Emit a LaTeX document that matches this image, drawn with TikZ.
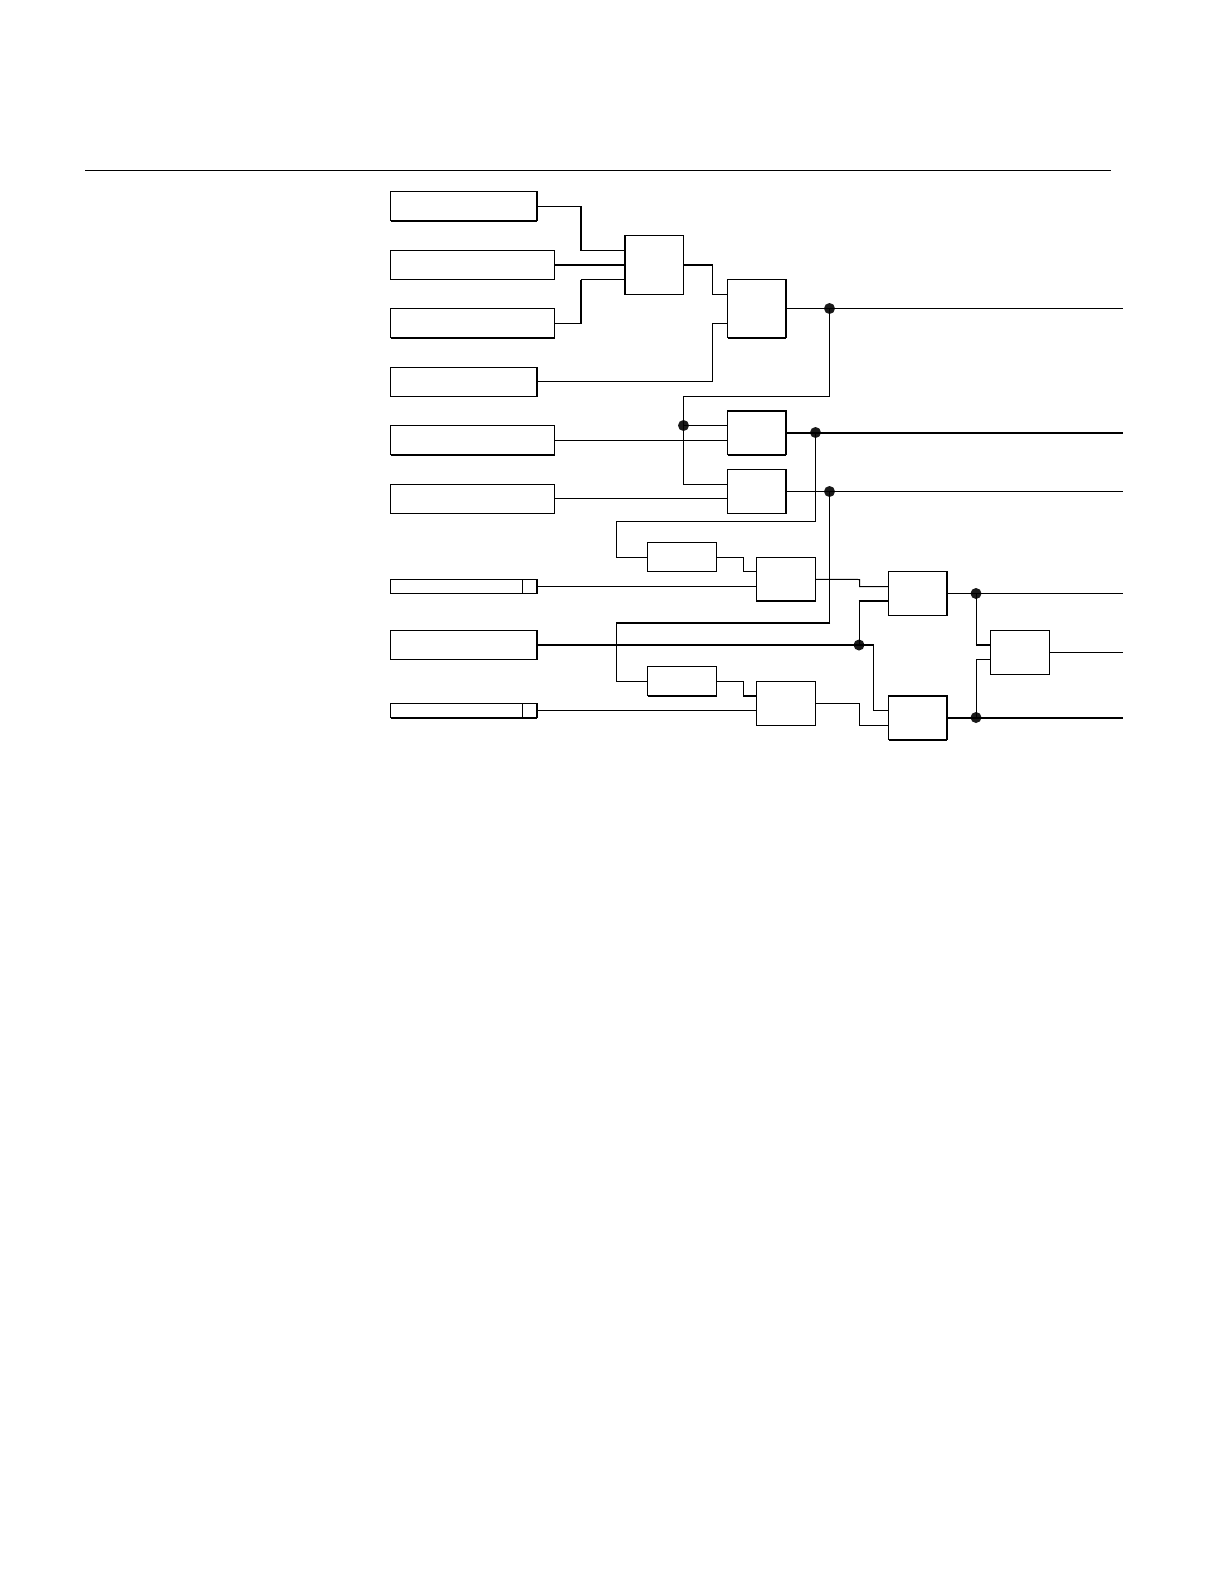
\documentclass[tikz,border=0pt]{standalone}
\tikzset{
  blk/.style={draw=black,fill=white,line width=1pt,inner sep=0pt,outer sep=0pt},
  wire/.style={draw=black,line width=1pt,line join=miter},
  heavy/.style={draw=black,line width=2pt,line cap=square},
  joint/.style={circle,fill=black!90,draw=none,inner sep=0pt,minimum size=11pt,outer sep=0pt}
}
\newcommand{\bx}[5]{\node[blk,minimum width={(#4-#2)*1pt},minimum height={(#5-#3)*1pt}] (#1) at ({(#2+#4)/2},{(#3+#5)/2}) {};}
\newcommand{\hS}[1]{\draw[heavy] (#1.south west) -- (#1.south east);}
\newcommand{\hE}[1]{\draw[heavy] (#1.north east) -- (#1.south east);}
\newcommand{\hN}[1]{\draw[heavy] (#1.north west) -- (#1.north east);}
\newcommand{\hW}[1]{\draw[heavy] (#1.north west) -- (#1.south west);}
\begin{document}
\begin{tikzpicture}[x=1pt,y=-1pt]
\path[use as bounding box,fill=white] (0,0) rectangle (1225,1582);
\coordinate (ruleL) at (85,170.5);
\coordinate (ruleR) at (1111,170.5);
\draw[wire] (ruleL) -- (ruleR);
% left blocks
\bx{b1}{390.5}{191.5}{537}{220.5}
\bx{b2}{390.5}{250.5}{554.5}{279.5}
\bx{b3}{390.5}{308.5}{554.5}{337.5}
\bx{b4}{390.5}{367}{537}{396}
\bx{b5}{390.5}{425.5}{554.5}{454.5}
\bx{b6}{390.5}{484}{554.5}{513.5}
\bx{b7}{390.5}{579.5}{537}{593.5}
\bx{b8}{390.5}{630.5}{537}{659.5}
\bx{b9}{390.5}{703.5}{537}{717.5}
\draw[wire] ([xshift=-14.5]b7.north east) -- ([xshift=-14.5]b7.south east);
\draw[wire] ([xshift=-14.5]b9.north east) -- ([xshift=-14.5]b9.south east);
% gates
\bx{g1}{624.5}{235.5}{683.5}{294.5}
\bx{g2}{727.5}{279.5}{786}{337.5}
\bx{g3}{727.5}{410.5}{786}{454.5}
\bx{g4}{727.5}{469.5}{786}{513.5}
\bx{d1}{647.5}{542.5}{716.5}{571.5}
\bx{d2}{647.5}{666.5}{716.5}{695.5}
\bx{g5}{756.5}{557.5}{815.5}{601}
\bx{g6}{756.5}{681.5}{815.5}{725.5}
\bx{g7}{888.5}{571.5}{947}{615.5}
\bx{g8}{888.5}{695.5}{947}{739.5}
\bx{g9}{990.5}{630.5}{1049.5}{674.5}
% heavy edges
\hS{b1}\hE{b1}\hS{b3}\hE{b4}\hS{b5}\hE{b7}\hE{b8}\hS{b9}\hE{b9}
\hW{g1}\hE{g2}\hS{g2}\hN{g3}\hS{g3}\hE{g3}\hE{g4}\hS{d2}\hS{g5}\hE{g7}\hN{g8}\hS{g8}\hE{g8}
% outputs
\coordinate (o1) at (1123,308.5);
\coordinate (o2) at (1123,432.5);
\coordinate (o3) at (1123,491.5);
\coordinate (o4) at (1123,593.5);
\coordinate (o5) at (1123,652.5);
\coordinate (o6) at (1123,717.5);
% joints
\node[joint] (j1) at (829.5,308.5) {};
\node[joint] (j2) at (683.5,425.5) {};
\node[joint] (j3) at (815.5,432.5) {};
\node[joint] (j4) at (829.5,491.5) {};
\node[joint] (j5) at (859,645) {};
\node[joint] (j6) at (976,593.5) {};
\node[joint] (j7) at (976,717.5) {};
% wires
\draw[wire] (b1.east) -- (581,206) -- (581,250.5) -- (g1.west |- 0,250.5);
\draw[heavy,line cap=butt] (581,206) -- (581,250.5);
\draw[heavy,line cap=butt] (b2.east) -- (g1.west);
\draw[wire] (b3.east) -- (581,323) -- (581,279.5) -- (g1.west |- 0,279.5);
\draw[heavy,line cap=butt] (581,323.5) -- (581,279.5);
\draw[wire] (g1.east) -- (712.5,265) -- (712.5,294.5) -- (g2.west |- 0,294.5);
\draw[heavy,line cap=butt] (g1.east) -- (713,265);
\draw[wire] (b4.east) -- (712.5,381.5) -- (712.5,323.5) -- (g2.west |- 0,323.5);
\draw[wire] (g2.east) -- (j1.center) -- (o1);
\draw[wire] (j1.center) -- (829.5,396.5) -- (683.5,396.5) -- (683.5,484.5) -- (g4.west |- 0,484.5);
\draw[wire] (j2.center) -- (g3.west |- j2.center);
\draw[wire] (b5.east) -- (g3.west |- b5.east);
\draw[wire] (b6.east) -- (g4.west |- b6.east);
\draw[heavy,line cap=butt] (g3.east) -- (j3.center) -- (o2);
\draw[wire] (j3.center) -- (815.5,521.5) -- (616.5,521.5) -- (616.5,557) -- (d1.west);
\draw[wire] (d1.east) -- (743.5,557) -- (743.5,571.5) -- (g5.west |- 0,571.5);
\draw[wire] (b7.east) -- (g5.west |- b7.east);
\draw[wire] (g4.east) -- (j4.center) -- (o3);
\draw[wire] (j4.center) -- (829.5,622.5) -- (616.5,622.5) -- (616.5,681) -- (d2.west);
\draw[heavy,line cap=butt] (830,622.5) -- (616,622.5);
\draw[heavy,line cap=butt] (b8.east) -- (j5.center) -- (873.5,645);
\draw[wire] (873.5,644) -- (873.5,710.5) -- (g8.west |- 0,710.5);
\draw[wire] (j5.center) -- (859,601);
\draw[heavy,line cap=butt] (858.5,601) -- (g7.west |- 0,601);
\draw[wire] (d2.east) -- (743.5,681) -- (743.5,695.5) -- (g6.west |- 0,695.5);
\draw[heavy,line cap=butt] (743,695.5) -- (g6.west |- 0,695.5);
\draw[wire] (b9.east) -- (g6.west |- b9.east);
\draw[wire] (g5.east) -- (859.5,579.5) -- (859.5,586.5) -- (g7.west |- 0,586.5);
\draw[wire] (g6.east) -- (859.5,703.5) -- (859.5,725) -- (g8.west |- 0,725);
\draw[wire] (g7.east) -- (j6.center) -- (o4);
\draw[wire] (j6.center) -- (976,645);
\draw[heavy,line cap=butt] (975.5,645) -- (g9.west |- 0,645);
\draw[heavy,line cap=butt] (g8.east) -- (j7.center) -- (o6);
\draw[wire] (j7.center) -- (976,659.5) -- (g9.west |- 0,659.5);
\draw[wire] (g9.east) -- (o5);
\end{tikzpicture}
\end{document}
